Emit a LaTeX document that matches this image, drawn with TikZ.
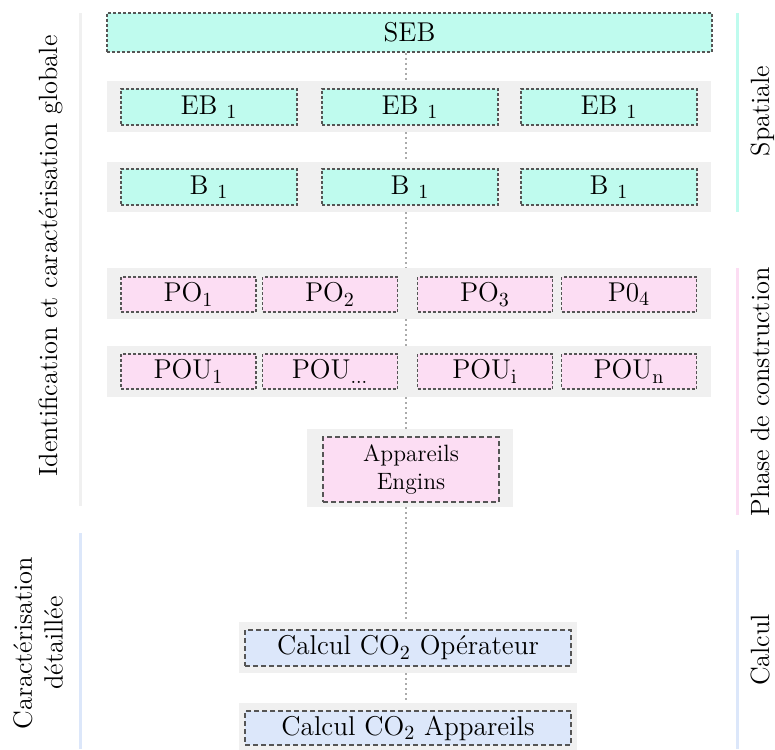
\documentclass[tikz,border=0pt]{standalone}
\usepackage{tikz}
\usepackage{xcolor}
\usetikzlibrary{positioning, calc}
\definecolor{mint}{HTML}{BFFBEE}
\definecolor{blush}{HTML}{FCDDF3}
\definecolor{sky}{HTML}{DCE7FA}
\definecolor{band}{HTML}{F0F0F0}
\definecolor{edge}{HTML}{555555}
\definecolor{spinegrey}{HTML}{ABABAB}

\begin{document}
\begin{tikzpicture}[
  x=0.5pt, y=-0.5pt,
  every node/.style={sharp corners},
  row/.style={
    rectangle, fill=band, inner sep=0pt,
    minimum width=302pt, minimum height=25.5pt
  },
  unit/.style={
    rectangle, draw=edge, line width=0.6pt, dash pattern=on 1.5pt off 1pt,
    inner sep=0pt, minimum width=88pt, minimum height=18pt,
    font=\fontsize{13.6}{16.3}\selectfont
  },
  phase/.style={unit, fill=blush, minimum width=67.5pt, minimum height=17.5pt},
  calcbox/.style={
    rectangle, draw=edge, line width=1pt, dash pattern=on 2.5pt off 1.5pt,
    inner sep=0pt, fill=sky, minimum width=163pt, minimum height=17.5pt,
    font=\fontsize{13.6}{16.3}\selectfont
  },
  link/.style={draw=spinegrey, line width=1pt, dash pattern=on 1pt off 1.5pt},
  bar/.style={line width=1.5pt},
  sidetext/.style={rotate=90, align=center,
    font=\fontsize{13.2}{15.4}\selectfont},
  lbl/.style={sidetext, text height=9pt, text depth=2.8pt}
]
\useasboundingbox (0,0) rectangle (775,749);

%% vertical axis of the chain (px coordinates, y downwards)
\coordinate (axis) at (406,0);

%% ─── SPATIALE ───────────────────────────────────────────────
\node[unit, fill=mint, minimum width=302.5pt, minimum height=19.5pt]
  (seb) at (409.5,32.5) {SEB};

\node[row] (ebrow) at (409,106.5) {};
\node[unit, fill=mint] (eb1) at (209,107) {EB $_1$};
\node[unit, fill=mint] (eb2) at (410,107) {EB $_1$};
\node[unit, fill=mint] (eb3) at (609,107) {EB $_1$};

\node[row, minimum height=25pt] (brow) at (409,187) {};
\node[unit, fill=mint] (b1) at (209,187) {B $_1$};
\node[unit, fill=mint] (b2) at (410,187) {B $_1$};
\node[unit, fill=mint] (b3) at (609,187) {B $_1$};

%% ─── PHASE DE CONSTRUCTION ──────────────────────────────────
\node[row] (porow) at (409,293.5) {};
\node[phase] (po1) at (188.5,294.5) {PO$_1$};
\node[phase] (po2) at (330,294.5) {PO$_2$};
\node[phase] (po3) at (485,294.5) {PO$_3$};
\node[phase] (po4) at (629,294.5) {P0$_4$};

\node[row] (pourow) at (409,371.5) {};
\node[phase] (pou1) at (188.5,371.5) {POU$_1$};
\node[phase] (pou2) at (330,371.5) {POU$_{...}$};
\node[phase] (pou3) at (485,371.5) {POU$_\mathrm{i}$};
\node[phase] (pou4) at (629,371.5) {POU$_\mathrm{n}$};

\node[row, minimum width=103pt, minimum height=39pt] (approw) at (410,468) {};
\node[calcbox, fill=blush, minimum width=88pt, minimum height=32.5pt,
      align=center, font=\fontsize{11.8}{14.2}\selectfont]
  (engins) at (411,469.5) {Appareils\\Engins};

%% ─── CALCUL ─────────────────────────────────────────────────
\node[row, minimum width=169pt] (oprow) at (408,647.5) {};
\node[calcbox, minimum height=18pt] (calcop) at (408,648)
  {Calcul CO$_2$ Opérateur};

\node[row, minimum width=169pt, minimum height=25pt] (aprow) at (408,728) {};
\node[calcbox, minimum height=17pt] (calcapp) at (408,728)
  {Calcul CO$_2$ Appareils};

%% dotted chain between the levels
\draw[link] (seb.south -| axis) -- (ebrow.north -| axis);
\draw[link] (ebrow.south -| axis) -- (brow.north -| axis);
\draw[link] (brow.south -| axis) -- (porow.north -| axis);
\draw[link] (porow.south -| axis) -- (pourow.north -| axis);
\draw[link] (pourow.south -| axis) -- (approw.north -| axis);
\draw[link] (approw.south -| axis) -- (oprow.north -| axis);
\draw[link] (oprow.south -| axis) -- (aprow.north -| axis);

%% ─── SIDE BARS AND LABELS ───────────────────────────────────
\draw[bar, draw=band] (80,13) -- (80,506);
\draw[bar, draw=sky] (80,533) -- (80,749);
\node[lbl] (ident) at (51,256) {Identification et caractérisation globale};
\node[sidetext] (detail) at (38,643) {Caractérisation\\détaillée};

\draw[bar, draw=mint] (737,13) -- (737,212);
\draw[bar, draw=blush] (737,268) -- (737,515);
\draw[bar, draw=sky] (737,550) -- (737,749);
\node[lbl] (spat) at (763,111) {Spatiale};
\node[lbl] (phas) at (763,392) {Phase de construction};
\node[lbl] (calc) at (763,650) {Calcul};

\end{tikzpicture}
\end{document}
